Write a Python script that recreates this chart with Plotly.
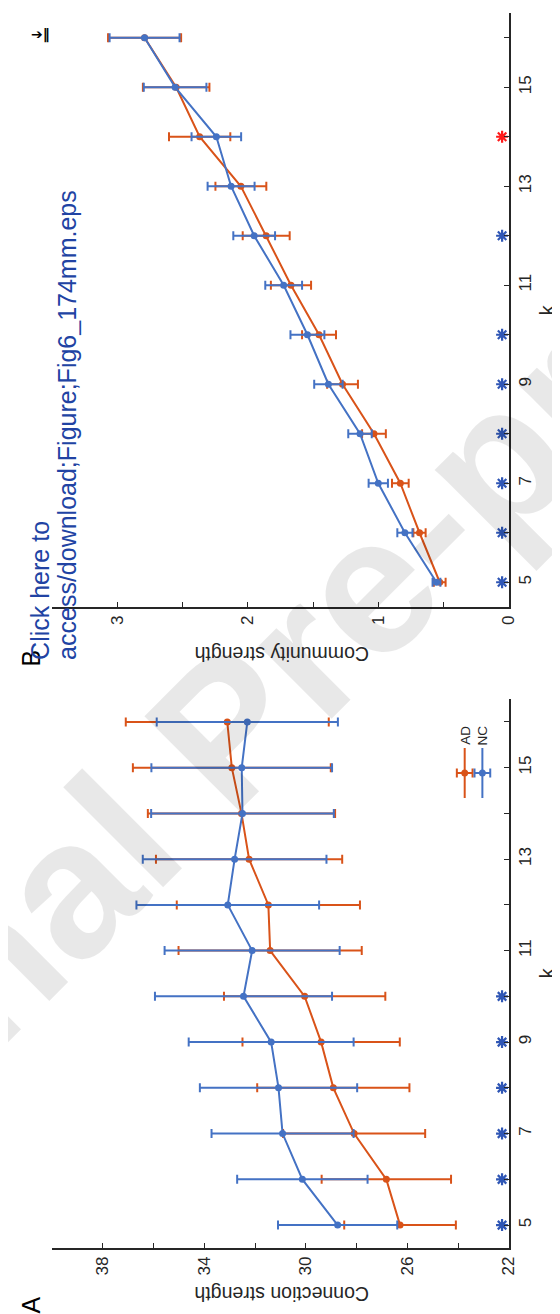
import plotly.graph_objects as go

# ---------------- data ----------------
k_values = [5, 6, 7, 8, 9, 10, 11, 12, 13, 14, 15, 16]

# Panel A: connection strength (mean, SD)
conn_AD_mean = [26.29, 26.83, 28.10, 28.92, 29.40, 30.05, 31.41, 31.48, 32.24, 32.54, 32.92, 33.10]
conn_AD_sd = [2.20, 2.55, 2.80, 3.00, 3.10, 3.18, 3.61, 3.61, 3.67, 3.69, 3.90, 4.00]
conn_NC_mean = [28.75, 30.14, 30.92, 31.08, 31.37, 32.46, 32.12, 33.08, 32.81, 32.50, 32.53, 32.31]
conn_NC_sd = [2.35, 2.57, 2.80, 3.10, 3.25, 3.49, 3.45, 3.60, 3.62, 3.60, 3.56, 3.57]
conn_sig_blue = [5, 6, 7, 8, 9, 10]

# Panel B: community strength (mean, SD)
comm_AD_mean = [0.530, 0.685, 0.832, 1.034, 1.275, 1.455, 1.670, 1.860, 2.054, 2.370, 2.550, 2.792]
comm_AD_sd = [0.045, 0.047, 0.064, 0.091, 0.118, 0.130, 0.154, 0.180, 0.195, 0.235, 0.255, 0.280]
comm_NC_mean = [0.555, 0.797, 1.001, 1.141, 1.383, 1.544, 1.726, 1.952, 2.129, 2.242, 2.558, 2.792]
comm_NC_sd = [0.030, 0.058, 0.074, 0.090, 0.109, 0.130, 0.141, 0.160, 0.180, 0.190, 0.240, 0.268]
comm_sig_blue = [5, 6, 7, 8, 9, 10, 12]
comm_sig_red = [14]

conn_ticks = [22, 24, 26, 28, 30, 32, 34, 36, 38, 40]
conn_ticklabels = ["22", "", "26", "", "30", "", "34", "", "38", ""]
comm_ticks = [0, 0.5, 1, 1.5, 2, 2.5, 3, 3.5]
comm_ticklabels = ["0", "", "1", "", "2", "", "3", ""]
k_ticks = k_values
k_ticklabels = [str(v) if v % 2 == 1 else "" for v in k_values]

series_names = ["AD", "NC"]

# ---------------- style ----------------
W, H = 560, 1314
C_AD = "#D95319"
C_NC = "#4472C4"
C_STAR = "#2F56B5"
C_RED = "#FF1A1A"
C_AX = "#262626"
FONT = "Liberation Sans, Arial, sans-serif"


def px(x):
    return x / W


def py(y):
    return 1 - y / H


fig = go.Figure()


def add_stars(xa, ya, star_x, ks, color):
    if not ks:
        return
    fig.add_trace(go.Scatter(
        x=[star_x] * len(ks), y=ks, mode="markers",
        marker=dict(symbol="asterisk-open", size=10, color=color,
                    line=dict(color=color, width=2.2)),
        xaxis=xa, yaxis=ya, showlegend=False, hoverinfo="skip"))


def add_panel(xa, ya, ad_m, ad_s, nc_m, nc_s, star_x, sig_blue, sig_red):
    for m, s, c in [(ad_m, ad_s, C_AD), (nc_m, nc_s, C_NC)]:
        fig.add_trace(go.Scatter(
            x=m, y=k_values, mode="lines+markers",
            line=dict(color=c, width=2),
            marker=dict(color=c, size=7),
            error_x=dict(type="data", array=s, color=c, thickness=2, width=4.5),
            xaxis=xa, yaxis=ya, showlegend=False, hoverinfo="skip"))
    add_stars(xa, ya, star_x, sig_blue, C_STAR)
    add_stars(xa, ya, star_x, sig_red, C_RED)


add_panel("x", "y", comm_AD_mean, comm_AD_sd, comm_NC_mean, comm_NC_sd, 0.052,
          comm_sig_blue, comm_sig_red)
add_panel("x2", "y2", conn_AD_mean, conn_AD_sd, conn_NC_mean, conn_NC_sd, 22.27,
          conn_sig_blue, [])

xdom = [px(45), px(510)]
axis_common = dict(showline=True, linecolor=C_AX, linewidth=1.5, ticks="inside",
                   ticklen=5.5, tickwidth=1.3, tickcolor=C_AX, showgrid=False,
                   zeroline=False, tickangle=-90,
                   tickfont=dict(family=FONT, size=17, color=C_AX))

fig.update_layout(
    width=W, height=H, margin=dict(l=0, r=0, t=0, b=0),
    paper_bgcolor="white", plot_bgcolor="white", showlegend=False,
    xaxis=dict(domain=xdom, range=[3.5, 0], anchor="y", tickvals=comm_ticks,
               ticktext=comm_ticklabels, **axis_common),
    yaxis=dict(domain=[py(599), py(5)], range=[4.5, 16.5], anchor="x", side="right",
               tickvals=k_ticks, ticktext=k_ticklabels, **axis_common),
    xaxis2=dict(domain=xdom, range=[40, 22], anchor="y2", tickvals=conn_ticks,
                ticktext=conn_ticklabels, **axis_common),
    yaxis2=dict(domain=[py(1240), py(691)], range=[4.5, 16.5], anchor="x2", side="right",
                tickvals=k_ticks, ticktext=k_ticklabels, **axis_common),
)

ann = []


def text(x, y, t, size, angle=0, color=C_AX, xa="center", ya="middle", family=FONT):
    ann.append(dict(x=px(x), y=py(y), xref="paper", yref="paper", text=t, showarrow=False,
                    textangle=angle, xanchor=xa, yanchor=ya,
                    font=dict(family=family, size=size, color=color)))


# watermark
text(220, 722, "<b>Journal Pre-proof</b>", 195, angle=-45, color="rgba(0,0,0,0.09)")

# axis titles
text(279, 1286, "Connection strength", 19.5, angle=180)
text(279, 646, "Community strength", 19.5, angle=180)
text(549, 965, "k", 20, angle=-90)
text(549, 302, "k", 20, angle=-90)

# panel letters
text(23, 1297, "A", 25, angle=-90, color="black")
text(23, 650, "B", 25, angle=-90, color="black")

# link text
text(33, 654, "Click here to", 25, angle=-90, color="#2143A3", ya="bottom")
text(60, 654, "access/download;Figure;Fig6_174mm.eps", 25, angle=-90, color="#2143A3", ya="bottom")

# icon
text(33, 26, "<b>➔‖</b>", 14, angle=0, color="black", family="DejaVu Sans")

# legend (drawn rotated, like the figure)
shapes = []
for name, c, lx in [(series_names[0], C_AD, 465), (series_names[1], C_NC, 483)]:
    shapes.append(dict(type="line", xref="paper", yref="paper", x0=px(lx), x1=px(lx),
                       y0=py(740), y1=py(790), line=dict(color=c, width=2)))
    shapes.append(dict(type="line", xref="paper", yref="paper", x0=px(lx - 8), x1=px(lx + 8),
                       y0=py(765), y1=py(765), line=dict(color=c, width=2)))
    for cx in (lx - 8, lx + 8):
        shapes.append(dict(type="line", xref="paper", yref="paper", x0=px(cx), x1=px(cx),
                           y0=py(760.5), y1=py(769.5), line=dict(color=c, width=2)))
    shapes.append(dict(type="circle", xref="paper", yref="paper", x0=px(lx - 3.5), x1=px(lx + 3.5),
                       y0=py(761.5), y1=py(768.5), fillcolor=c, line=dict(color=c, width=0)))
    text(lx, 727, name, 13.5, angle=-90)

fig.update_layout(annotations=ann, shapes=shapes)
fig.write_html("out.html")
